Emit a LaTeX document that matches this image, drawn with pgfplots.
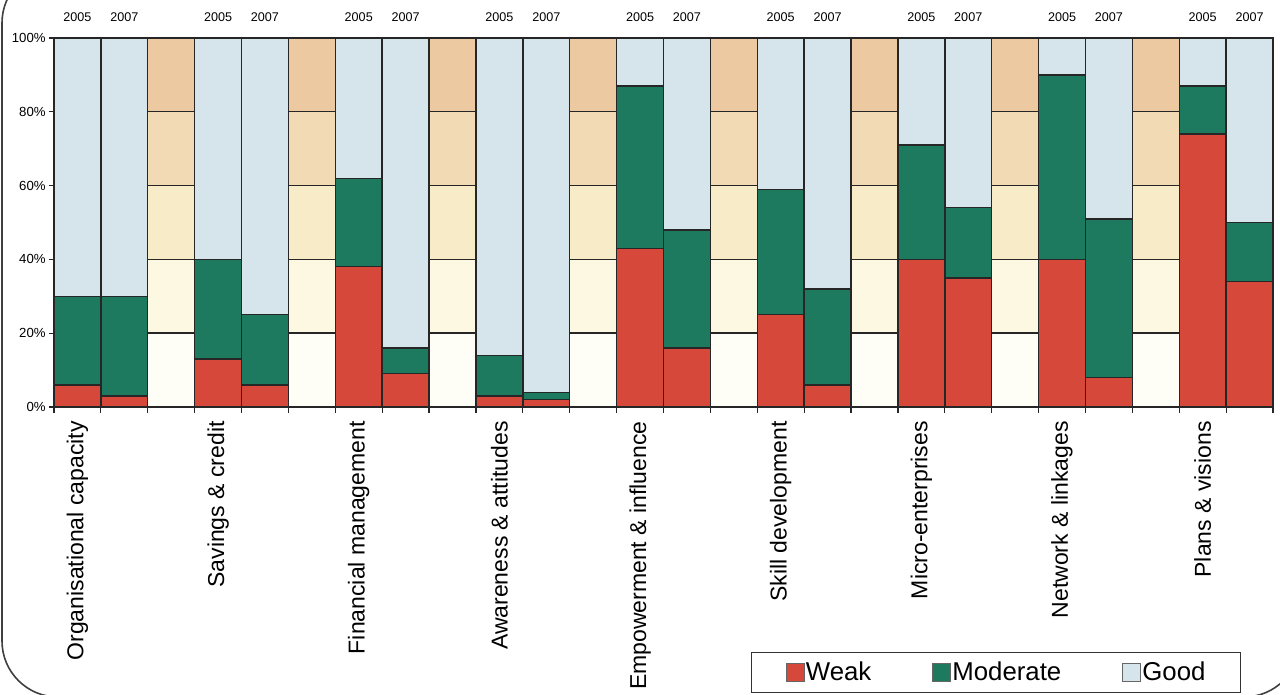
\documentclass[border=0pt]{standalone}
\usepackage{fontspec}
\setmainfont{Liberation Sans}
\usepackage{pgfplots}
\pgfplotsset{compat=1.18}
\usepackage{pgfplotstable}

\definecolor{weak}{RGB}{214,72,58}
\definecolor{moderate}{RGB}{30,122,95}
\definecolor{good}{RGB}{214,228,236}
\definecolor{sA}{RGB}{255,254,246}
\definecolor{sB}{RGB}{253,248,226}
\definecolor{sC}{RGB}{247,235,200}
\definecolor{sD}{RGB}{242,219,180}
\definecolor{sE}{RGB}{236,201,161}

\pgfplotsset{
  sq legend/.style={
    legend image code/.code={
      \draw[##1, draw=black!60, line width=0.5pt] (0pt,-4.5pt) rectangle (9pt,4.5pt);}},
}

% one row per bar: 2005, 2007, then a scale bar between groups
\pgfplotstableread{
x  weak mod good sa sb sc sd se
0  6  24 70  0  0  0  0  0
1  3  27 70  0  0  0  0  0
2  0  0  0   20 20 20 20 20
3  13 27 60  0  0  0  0  0
4  6  19 75  0  0  0  0  0
5  0  0  0   20 20 20 20 20
6  38 24 38  0  0  0  0  0
7  9  7  84  0  0  0  0  0
8  0  0  0   20 20 20 20 20
9  3  11 86  0  0  0  0  0
10 2  2  96  0  0  0  0  0
11 0  0  0   20 20 20 20 20
12 43 44 13  0  0  0  0  0
13 16 32 52  0  0  0  0  0
14 0  0  0   20 20 20 20 20
15 25 34 41  0  0  0  0  0
16 6  26 68  0  0  0  0  0
17 0  0  0   20 20 20 20 20
18 40 31 29  0  0  0  0  0
19 35 19 46  0  0  0  0  0
20 0  0  0   20 20 20 20 20
21 40 50 10  0  0  0  0  0
22 8  43 49  0  0  0  0  0
23 0  0  0   20 20 20 20 20
24 74 13 13  0  0  0  0  0
25 34 16 50  0  0  0  0  0
}\bars

\begin{document}
\begin{tikzpicture}
  % scanned card frame
  \draw[black!75, line width=0.8pt, rounded corners=28pt]
    (-26pt,-145pt) rectangle (623pt,220pt);
  \begin{axis}[
      name=ax, at={(0,0)}, anchor=south west,
      scale only axis, width=609.5pt, height=184.5pt,
      ybar stacked, bar width=1,
      xmin=-0.5, xmax=25.5, ymin=0, ymax=100,
      clip=false,
      axis line style={black!85, line width=0.6pt},
      tick pos=left, tick align=outside,
      major tick length=2.5pt, minor tick length=3pt,
      tick style={black!85, line width=0.6pt},
      xtick={0,3,...,24},
      xticklabels={Organisational capacity, Savings \& credit, Financial management,
        Awareness \& attitudes, Empowerment \& influence, Skill development,
        Micro-enterprises, Network \& linkages, Plans \& visions},
      major x tick style={draw=none},
      minor xtick={-0.5,0.5,...,25.5},
      xticklabel style={rotate=90, anchor=east, inner sep=0pt,
        font=\fontsize{11.5}{13}\selectfont},
      xticklabel shift=4.5pt,
      ytick={0,20,...,100},
      yticklabel={\pgfmathprintnumber[assume math mode=true]{\tick}\%},
      yticklabel style={font=\fontsize{6.6}{7}\selectfont, inner sep=0pt, anchor=east},
      yticklabel shift=1.5pt,
      every axis plot/.append style={draw=black!85, line width=0.7pt},
      legend columns=3,
      legend style={at={(0.9738,-0.775)}, anchor=south east,
        draw=black!80, line width=0.6pt,
        font=\fontsize{12.9}{14}\selectfont,
        inner xsep=17pt, inner ysep=2.5pt,
        nodes={inner xsep=0.5pt},
        /tikz/every even column/.append style={column sep=30pt}},
    ]
    \addplot[fill=weak, sq legend]     table[x=x, y=weak] {\bars};
    \addplot[fill=moderate, sq legend] table[x=x, y=mod]  {\bars};
    \addplot[fill=good, sq legend]     table[x=x, y=good] {\bars};
    \addplot[fill=sA] table[x=x, y=sa] {\bars};
    \addplot[fill=sB] table[x=x, y=sb] {\bars};
    \addplot[fill=sC] table[x=x, y=sc] {\bars};
    \addplot[fill=sD] table[x=x, y=sd] {\bars};
    \addplot[fill=sE] table[x=x, y=se] {\bars};
    \legend{Weak, Moderate, Good}

    \pgfplotsinvokeforeach{0,3,...,24}{
      \node[font=\fontsize{6.3}{7}\selectfont, yshift=10.5pt] at (axis cs:#1,100) {2005};}
    \pgfplotsinvokeforeach{1,4,...,25}{
      \node[font=\fontsize{6.3}{7}\selectfont, yshift=10.5pt] at (axis cs:#1,100) {2007};}
  \end{axis}
  \pgfresetboundingbox
  \path[use as bounding box] (-27pt,-144pt) rectangle (613pt,203.5pt);
\end{tikzpicture}
\end{document}
